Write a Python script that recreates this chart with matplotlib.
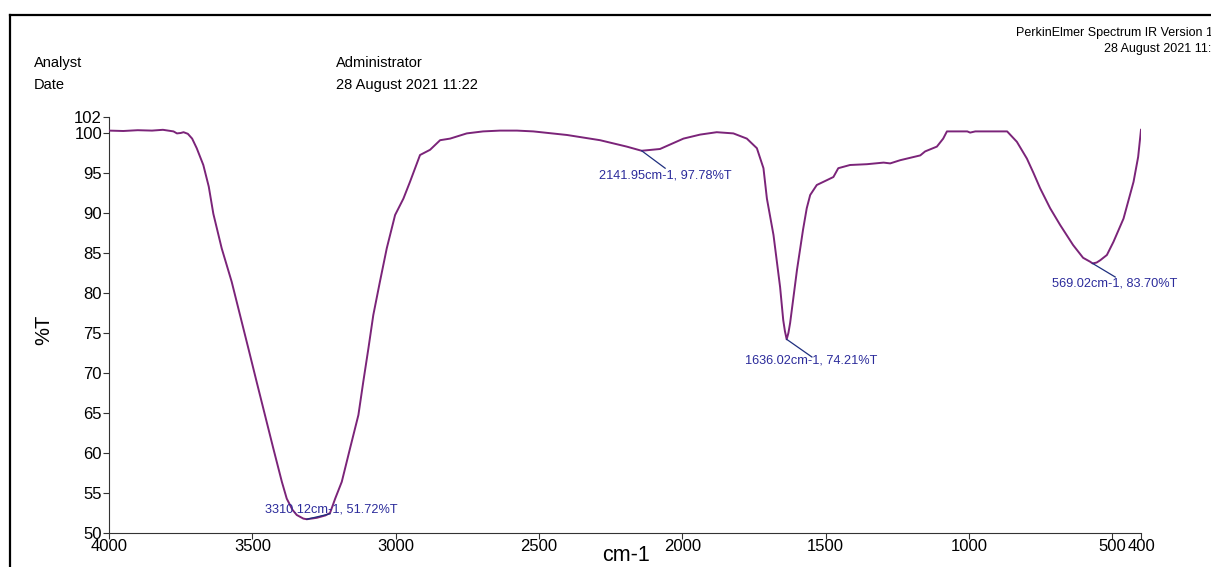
import matplotlib
matplotlib.use("Agg")
import matplotlib.pyplot as plt
from matplotlib.lines import Line2D

plt.rcParams["font.family"] = ["Liberation Sans", "DejaVu Sans"]

# ---------------------------------------------------------------------------
# Spectrum (wavenumber cm-1, %T)
# ---------------------------------------------------------------------------
wavenumber = [4000, 3950, 3900, 3850, 3812, 3775, 3763, 3750, 3740, 3725, 3710,
              3694, 3671, 3652, 3636, 3607, 3572, 3543, 3514, 3485, 3456, 3427,
              3397, 3380, 3360, 3345, 3322, 3310, 3275, 3245, 3229, 3211, 3188,
              3159, 3130, 3113, 3095, 3078, 3055, 3031, 3002, 2973, 2950, 2915,
              2880, 2845, 2810, 2752, 2695, 2636, 2577, 2520, 2402, 2287, 2194,
              2142, 2078, 1996, 1938, 1880, 1822, 1775, 1740, 1717, 1705, 1682,
              1659, 1648, 1642, 1636, 1630, 1624, 1600, 1579, 1566, 1554, 1531,
              1496, 1473, 1456, 1415, 1356, 1298, 1275, 1240, 1170, 1153, 1112,
              1090, 1077, 1040, 1006, 996, 978, 930, 867, 833, 798, 775, 752, 717,
              682, 637, 602, 577, 569, 555, 542, 519, 496, 461, 426, 410, 400]
transmittance = [100.3, 100.25, 100.35, 100.3, 100.4, 100.2, 99.95, 100.0, 100.1, 99.9, 99.3,
                 98.1, 96.0, 93.3, 89.9, 85.6, 81.4, 77.25, 73.1, 68.9, 64.75, 60.6,
                 56.4, 54.3, 52.9, 52.25, 51.8, 51.72, 51.9, 52.2, 52.5, 54.3, 56.4,
                 60.6, 64.75, 68.9, 73.1, 77.25, 81.4, 85.6, 89.75, 91.8, 93.9, 97.25,
                 97.9, 99.1, 99.3, 99.95, 100.2, 100.3, 100.3, 100.2, 99.75, 99.1, 98.3,
                 97.78, 98.0, 99.3, 99.8, 100.1, 99.95, 99.3, 98.1, 95.6, 91.8, 87.25,
                 80.75, 76.6, 75.2, 74.21, 75.0, 76.25, 82.9, 87.9, 90.6, 92.25, 93.5,
                 94.1, 94.5, 95.6, 96.0, 96.1, 96.3, 96.2, 96.6, 97.2, 97.7, 98.3,
                 99.3, 100.2, 100.2, 100.2, 100.05, 100.2, 100.2, 100.2, 98.9, 96.8, 95.0, 93.1, 90.6,
                 88.5, 86.0, 84.4, 83.9, 83.70, 83.8, 84.1, 84.75, 86.4, 89.3, 93.9, 97.0, 100.4]

# labelled peaks
peak_x = [3310.12, 2141.95, 1636.02, 569.02]
peak_y = [51.72, 97.78, 74.21, 83.70]
# where the label text sits and where the leader line ends (data coords)
label_xy = [(3456, 53.0), (2290, 94.75), (1781, 71.6), (710, 81.25)]
leader_end = [(3229, 52.4), (2060, 95.6), (1548, 72.0), (490, 82.0)]

x_ticks = [4000, 3500, 3000, 2500, 2000, 1500, 1000, 500, 400]
y_ticks = [102, 100, 95, 90, 85, 80, 75, 70, 65, 60, 55, 50]

LINE_COLOR = "#7b2479"
LABEL_COLOR = "#2b2b9b"

W, H = 1211, 567
fig = plt.figure(figsize=(W / 100, H / 100), dpi=100)
ax = fig.add_axes([109 / W, 1 - 533 / H, (1141 - 109) / W, (533 - 117) / H])

ax.plot(wavenumber, transmittance, color=LINE_COLOR, lw=1.4, zorder=3,
        solid_joinstyle="round")

for (px, py), (tx, ty), (ex, ey) in zip(zip(peak_x, peak_y), label_xy, leader_end):
    ax.plot([px, ex], [py, ey], color="#1f2f7f", lw=0.9, zorder=4)
    ax.text(tx, ty, f"{px:.2f}cm-1, {py:.2f}%T", color=LABEL_COLOR,
            fontsize=9.2, ha="left", va="center", zorder=5)

ax.set_xlim(4000, 400)
ax.set_ylim(50, 102)
ax.set_xticks(x_ticks)
ax.set_xticklabels([str(v) for v in x_ticks])
ax.set_yticks(y_ticks)
ax.set_yticklabels([str(v) for v in y_ticks])
for s in ("top", "right"):
    ax.spines[s].set_visible(False)
for s in ("left", "bottom"):
    ax.spines[s].set_color("#333333")
    ax.spines[s].set_linewidth(0.8)
ax.tick_params(axis="both", direction="out", length=4, width=0.8,
               color="#333333", labelsize=12, pad=1)
ax.tick_params(axis="x", pad=0)

# axis titles placed like the instrument printout
fig.text(44 / W, 1 - 330 / H, "%T", fontsize=14.5, rotation=90,
         ha="center", va="center")
fig.text(626 / W, 1 - 566 / H, "cm-1", fontsize=15.5, ha="center", va="bottom")

# header block
hdr = dict(fontsize=10.5, ha="left", va="center")
fig.text(34 / W, 1 - 63 / H, "Analyst", **hdr)
fig.text(34 / W, 1 - 85 / H, "Date", **hdr)
fig.text(336 / W, 1 - 63 / H, "Administrator", **hdr)
fig.text(336 / W, 1 - 85 / H, "28 August 2021 11:22", **hdr)
fig.text(1016 / W, 1 - 33 / H, "PerkinElmer Spectrum IR Version 10.6.1",
         fontsize=9.0, ha="left", va="center")
fig.text(1104 / W, 1 - 49 / H, "28 August 2021 11:22",
         fontsize=9.0, ha="left", va="center")

# page frame (cut off at right and bottom)
fig.add_artist(Line2D([10 / W, 1.0], [1 - 15 / H, 1 - 15 / H],
                      transform=fig.transFigure, color="black", lw=1.6))
fig.add_artist(Line2D([10 / W, 10 / W], [1 - 15 / H, 0.0],
                      transform=fig.transFigure, color="black", lw=1.6))

fig.savefig("out.png", dpi=100)
